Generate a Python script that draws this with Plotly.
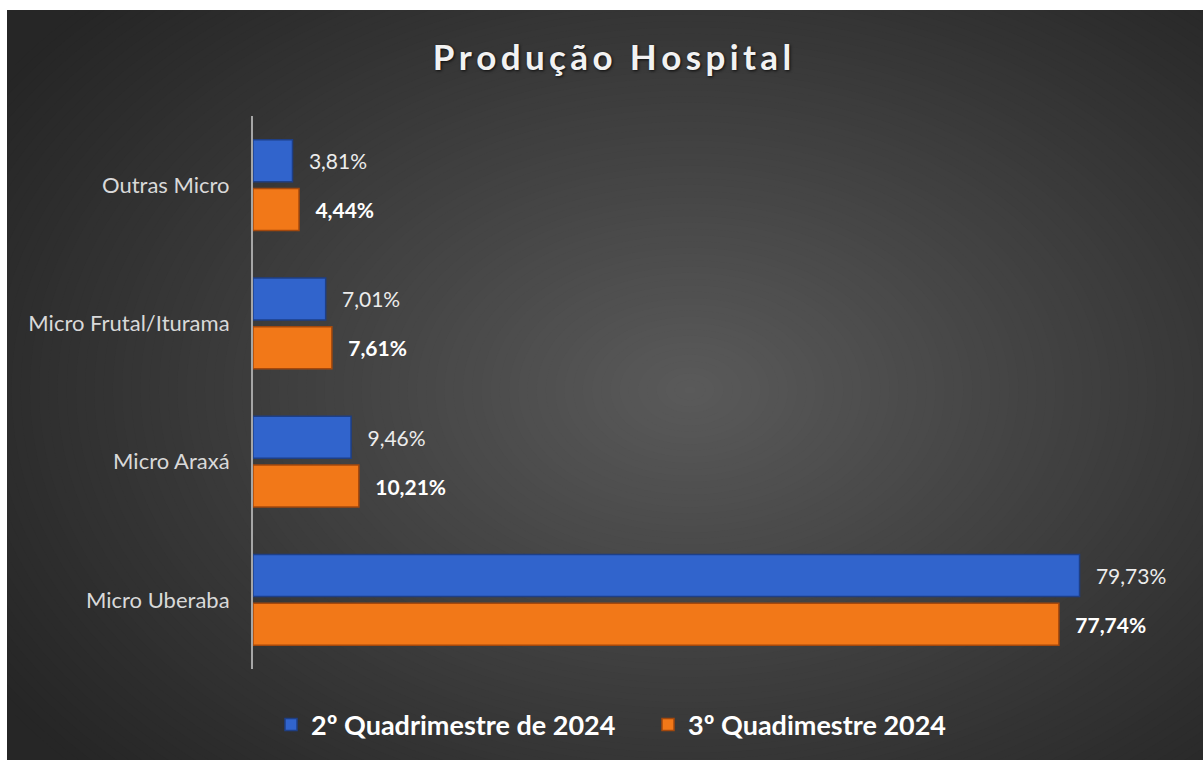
import plotly.graph_objects as go

categories = ["Outras Micro", "Micro Frutal/Iturama", "Micro Araxá", "Micro Uberaba"]
q2_values = [3.81, 7.01, 9.46, 79.73]
q3_values = [4.44, 7.61, 10.21, 77.74]
series_names = ["2º Quadrimestre de 2024", "3º Quadimestre 2024"]
title_text = "Produção Hospital"

W, H = 1203, 760
L, R, T, B = 253, 17, 116, 91
PW, PH = W - L - R, H - T - B


def px(x):
    return (x - L) / PW


def py(y):
    return (H - B - y) / PH


def lerp_color(c1, c2, t):
    return "rgb({},{},{})".format(*[int(round(a + (b - a) * t)) for a, b in zip(c1, c2)])


shapes = []
shapes.append(dict(type="rect", xref="paper", yref="paper", x0=px(7), x1=px(W + 5), y0=py(H + 5), y1=py(10),
                   fillcolor="#262626", line=dict(width=0), layer="below"))
outer = (38, 38, 38)
inner = (90, 90, 90)
cx, cy = 690, 390
N = 90
for i in range(N):
    t = i / (N - 1)
    s = 1 - t
    rx, ry = 820 * s + 6, 560 * s + 4
    shapes.append(dict(type="circle", xref="paper", yref="paper",
                       x0=px(cx - rx), x1=px(cx + rx), y0=py(cy + ry), y1=py(cy - ry),
                       fillcolor=lerp_color(outer, inner, t ** 1.1), line=dict(width=0), layer="below"))
shapes.append(dict(type="rect", xref="paper", yref="paper", x0=px(-5), x1=px(7), y0=py(H + 5), y1=py(-5),
                   fillcolor="white", line=dict(width=0), layer="below"))
shapes.append(dict(type="rect", xref="paper", yref="paper", x0=px(-5), x1=px(W + 5), y0=py(10), y1=py(-5),
                   fillcolor="white", line=dict(width=0), layer="below"))

NB = "\u00a0"
fig = go.Figure()
fig.add_trace(go.Bar(
    y=categories, x=q2_values, orientation="h", name=series_names[0],
    marker=dict(color="#3164CC", line=dict(color="#1E3F86", width=1.5)),
    texttemplate=NB * 2 + "\u2009" + "%{x:.2f}%", textposition="outside", cliponaxis=False,
    textfont=dict(family="Lato", size=21, color="#ECECEC"),
))
fig.add_trace(go.Bar(
    y=categories, x=q3_values, orientation="h", name=series_names[1],
    marker=dict(color="#F27818", line=dict(color="#A4480C", width=1.5)),
    texttemplate=NB * 2 + "\u2009" + "<b>%{x:.2f}%</b>", textposition="outside", cliponaxis=False,
    textfont=dict(family="Lato", size=21, color="#FFFFFF"),
))

spaced_title = "\u2009".join(list(title_text))

fig.update_layout(
    width=W, height=H,
    margin=dict(l=L, r=R, t=T, b=B, autoexpand=False),
    paper_bgcolor="white", plot_bgcolor="rgba(0,0,0,0)",
    separators=",.",
    barmode="group", bargap=0.292, bargroupgap=0.143,
    shapes=shapes,
    title=dict(text="<b>" + spaced_title + "</b>", x=612 / W, xanchor="center", y=1 - 58 / H, yanchor="middle",
               font=dict(family="Lato", size=35, color="#F2F2F2", shadow="1px 1px 3px rgba(0,0,0,0.8)")),
    xaxis=dict(range=[0, 90], visible=False, fixedrange=True),
    yaxis=dict(autorange="reversed", showline=True, linecolor="#A6A6A6", linewidth=2, showgrid=False,
               ticks="", ticklabelstandoff=17, tickfont=dict(family="Lato", size=22, color="#D9D9D9"),
               zeroline=False),
    legend=dict(orientation="h", x=px(271), xanchor="left", y=py(725), yanchor="middle",
                font=dict(family="Lato", size=27, color="#FFFFFF", weight="bold"),
                bgcolor="rgba(0,0,0,0)", itemwidth=30, entrywidth=332, entrywidthmode="pixels"),
    showlegend=True,
)

fig.write_html("out.html", config={"displayModeBar": False},
               post_script="document.body.style.margin='0';")
